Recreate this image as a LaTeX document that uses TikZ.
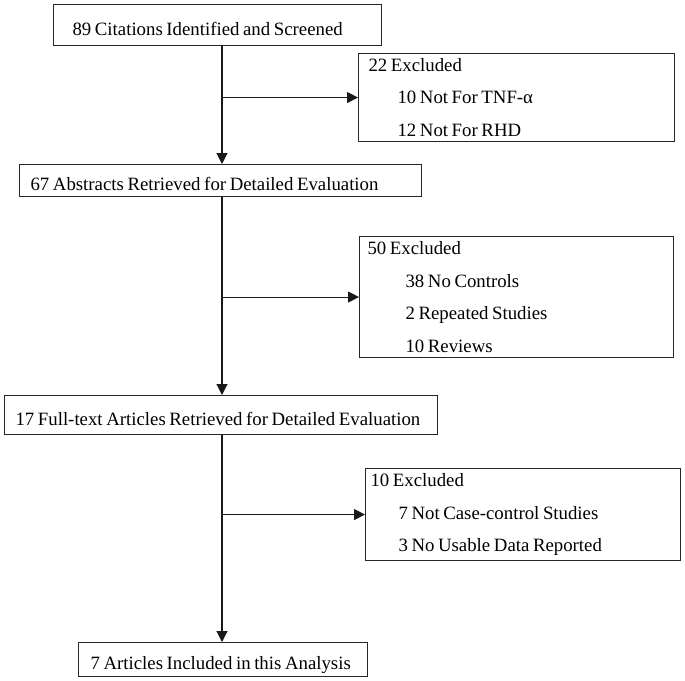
\documentclass[tikz,border=0pt]{standalone}
\usepackage{fontspec}
\setmainfont{Liberation Serif}
\usetikzlibrary{arrows.meta,positioning,calc}

\begin{document}
\begin{tikzpicture}[x=1bp, y=-1bp,
    box/.style={draw=black!85, line width=1.1bp, rectangle, anchor=north west, align=left,
        inner ysep=0pt, font=\fontsize{18.8bp}{32.5bp}\selectfont,
        execute at begin node={\spaceskip=3.6bp plus 1bp\relax}},
    stage/.style={box, text height=24bp, text depth=4bp},
    arr/.style={draw=black!90, line width=1.1bp, -{Triangle[length=11bp,width=11bp]}}]
    \useasboundingbox (0,0) rectangle (685,681);

    % Main stages
    \node[stage, inner xsep=19bp, text width=290bp, minimum height=41bp] at (53,4) (b1) {\mbox{89 Citations Identified and Screened}};
    \node[stage, inner xsep=11bp, text width=380bp, minimum height=32bp] at (19,164) (b3) {\mbox{67 Abstracts Retrieved for Detailed Evaluation}};
    \node[stage, inner xsep=11bp, text width=411bp, minimum height=39bp] at (4,395) (b5) {\mbox{17 Full-text Articles Retrieved for Detailed Evaluation}};
    \node[stage, inner xsep=12bp, text width=265bp, minimum height=34bp] at (78,642) (b7) {\mbox{7 Articles Included in this Analysis}};

    % Exclusion boxes
    \node[box, inner xsep=10bp, text width=296bp, minimum height=88bp] at (358,53) (ex1)
        {22 Excluded\\\hspace*{29bp}10 Not For TNF-α\\\hspace*{29bp}12 Not For RHD};
    \node[box, inner xsep=8bp, text width=298bp, minimum height=121bp] at (359,236) (ex2)
        {50 Excluded\\\hspace*{38bp}38 No Controls\\\hspace*{38bp}2 Repeated Studies\\\hspace*{38bp}10 Reviews};
    \node[box, inner xsep=5bp, text width=305bp, minimum height=92bp] at (365,468) (ex3)
        {10 Excluded\\\hspace*{28bp}7 Not Case-control Studies\\\hspace*{28bp}3 No Usable Data Reported};

    % Connections
    \coordinate (spine) at (222,0);
    \draw[arr] (spine |- b1.south) -- (spine |- b3.north);
    \draw[arr] (spine |- b3.south) -- (spine |- b5.north);
    \draw[arr] (spine |- b5.south) -- (spine |- b7.north);

    \draw[arr] (spine |- ex1.west) -- (ex1.west);
    \draw[arr] (spine |- ex2.west) -- (ex2.west);
    \draw[arr] (spine |- ex3.west) -- (ex3.west);
\end{tikzpicture}
\end{document}
